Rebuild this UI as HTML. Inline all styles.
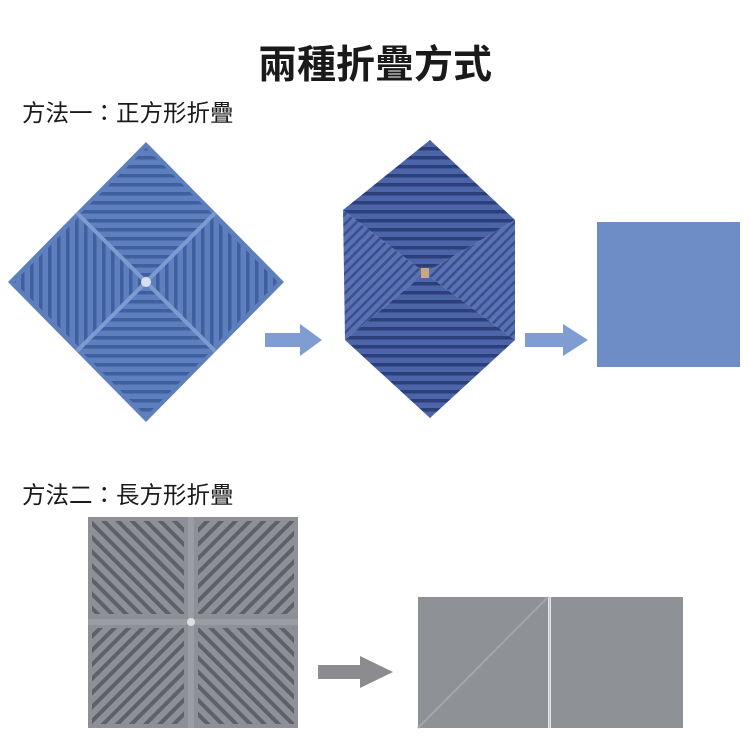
<!DOCTYPE html>
<html><head><meta charset="utf-8"><style>
body{margin:0;background:#fff;width:750px;height:750px;overflow:hidden;position:relative;font-family:"Liberation Sans","Noto Sans CJK TC",sans-serif}
.t{position:absolute;color:#1a1a1a}
</style></head><body>
<div class="t" style="left:0;width:750px;text-align:center;top:34px;font-size:39px;font-weight:bold;">兩種折疊方式</div>
<div class="t" style="left:22px;top:94px;font-size:23.5px;">方法一：正方形折疊</div>
<div class="t" style="left:22px;top:476px;font-size:23.5px;">方法二：長方形折疊</div>
<svg width="750" height="750" style="position:absolute;left:0;top:0">
<defs>
<pattern id="ph" width="9" height="9" patternUnits="userSpaceOnUse"><rect width="9" height="9" fill="#5d7fbd"/><rect y="3" width="9" height="3.5" fill="#3f5f9e"/></pattern>
<pattern id="pv" width="9" height="9" patternUnits="userSpaceOnUse"><rect width="9" height="9" fill="#5d7fbd"/><rect x="3" width="3.5" height="9" fill="#3f5f9e"/></pattern>
<pattern id="dh" width="9" height="9" patternUnits="userSpaceOnUse"><rect width="9" height="9" fill="#4c64a8"/><rect y="3" width="9" height="3.5" fill="#2c3f7a"/></pattern>
<pattern id="dd" width="7" height="7" patternUnits="userSpaceOnUse" patternTransform="rotate(45)"><rect width="7" height="7" fill="#5a72b4"/><rect x="2" width="2.5" height="7" fill="#3a4f8e"/></pattern>
<pattern id="g1" width="10" height="10" patternUnits="userSpaceOnUse" patternTransform="rotate(45)"><rect width="10" height="10" fill="#8d9096"/><rect x="3" width="4" height="10" fill="#5e6167"/></pattern>
<pattern id="g2" width="10" height="10" patternUnits="userSpaceOnUse" patternTransform="rotate(-45)"><rect width="10" height="10" fill="#8d9096"/><rect x="3" width="4" height="10" fill="#5e6167"/></pattern>
</defs>
<polygon points="146,142 284,282 146,422 8,282" fill="#5d7fbd"/>
<polygon points="146,148 212,214 146,280 80,214" fill="url(#ph)"/>
<polygon points="146,284 212,350 146,416 80,350" fill="url(#ph)"/>
<polygon points="14,282 80,216 146,282 80,348" fill="url(#pv)"/>
<polygon points="278,282 212,216 146,282 212,348" fill="url(#pv)"/>
<line x1="77" y1="213" x2="215" y2="351" stroke="#7d9bd0" stroke-width="4"/>
<line x1="215" y1="213" x2="77" y2="351" stroke="#7d9bd0" stroke-width="4"/>
<circle cx="146" cy="282" r="5" fill="#dde"/>
<polygon points="265,333 300,333 300,324 322,340 300,356 300,347 265,347" fill="#7f9dd2"/>
<polygon points="525,333 563,333 563,324 588,340 563,356 563,347 525,347" fill="#7f9dd2"/>
<polygon points="318,665 360,665 360,656 393,672 360,688 360,679 318,679" fill="#8a8c90"/>
<polygon points="343,210 425,273 345,340" fill="url(#dd)"/>
<polygon points="515,220 425,273 515,340" fill="url(#dd)"/>
<polygon points="430,140 515,220 425,273 343,210" fill="url(#dh)"/>
<polygon points="425,273 515,340 430,418 345,340" fill="url(#dh)"/>
<rect x="421" y="268" width="8" height="10" fill="#c9a787"/>
<rect x="597" y="222" width="143" height="145" fill="#6e8dc6"/>
<rect x="88" y="517" width="210" height="211" fill="#8d9096"/>
<rect x="92" y="521" width="92" height="93" fill="url(#g2)"/>
<rect x="198" y="521" width="96" height="93" fill="url(#g1)"/>
<rect x="92" y="628" width="92" height="96" fill="url(#g1)"/>
<rect x="198" y="628" width="96" height="96" fill="url(#g2)"/>
<line x1="88" y1="622" x2="298" y2="622" stroke="#9a9da2" stroke-width="6"/>
<line x1="191" y1="517" x2="191" y2="728" stroke="#9a9da2" stroke-width="6"/>
<circle cx="191" cy="622" r="4" fill="#ddd"/>
<rect x="418" y="597" width="130" height="131" fill="#8e9196"/>
<rect x="551" y="597" width="132" height="131" fill="#8e9196"/>
<line x1="418" y1="728" x2="548" y2="597" stroke="#a3a6aa" stroke-width="2"/>
<line x1="549.5" y1="597" x2="549.5" y2="728" stroke="#c8cacd" stroke-width="2"/>
</svg>
</body></html>
